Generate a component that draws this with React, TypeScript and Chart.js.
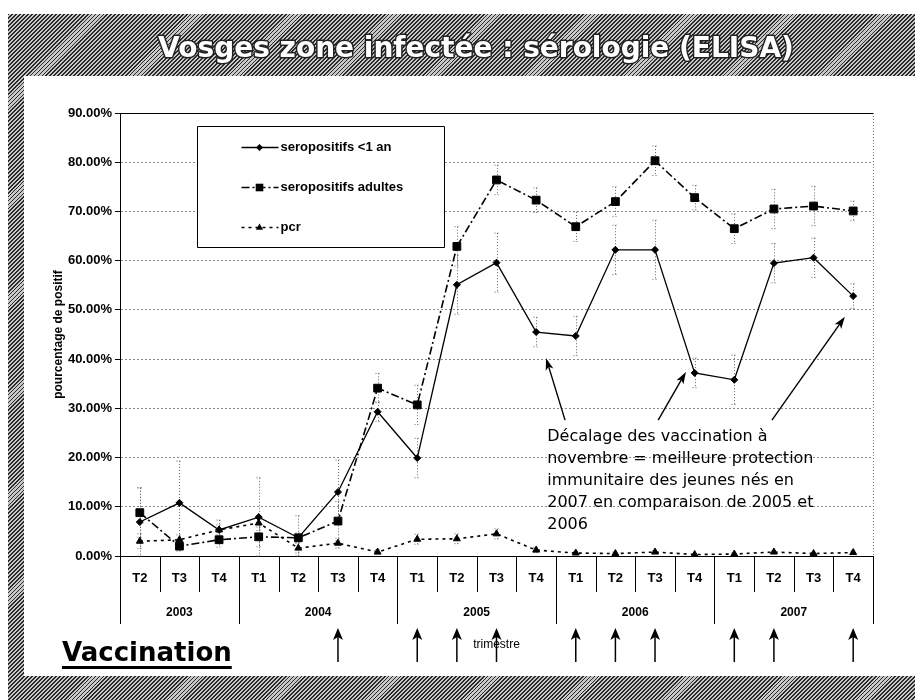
import React, { useEffect, useRef } from 'react';
import { Chart, registerables } from 'chart.js';

Chart.register(...registerables);

// ---------- data ----------
const quarters = ['T2', 'T3', 'T4', 'T1', 'T2', 'T3', 'T4', 'T1', 'T2', 'T3', 'T4', 'T1', 'T2', 'T3', 'T4', 'T1', 'T2', 'T3', 'T4'];
const years = ['2003', '2004', '2005', '2006', '2007'];
const quartersPerYear = [3, 4, 4, 4, 4];

const seroJeunes = [6.9, 10.8, 5.3, 7.9, 3.7, 13.0, 29.3, 19.9, 55.1, 59.6, 45.5, 44.7, 62.2, 62.2, 37.2, 35.8, 59.5, 60.6, 52.8];
const seroJeunesErr = [7, 8.5, 2, 8, 4.5, 6.5, 2, 4, 6, 6, 3, 4, 5, 6, 3, 5, 4, 4, 2.5];
const seroAdultes = [8.8, 2.0, 3.3, 3.9, 3.7, 7.1, 34.1, 30.7, 62.9, 76.4, 72.3, 66.9, 72.0, 80.3, 72.8, 66.5, 70.5, 71.1, 70.1];
const seroAdultesErr = [5, 1, 1.5, 2, 1, 4, 3, 4, 4, 3, 2.5, 3, 3, 3, 2.5, 3, 4, 4, 2];
const pcr = [3.0, 3.3, 5.3, 6.7, 1.6, 2.6, 0.8, 3.4, 3.5, 4.5, 1.2, 0.6, 0.5, 0.8, 0.3, 0.4, 0.8, 0.5, 0.7];
const pcrErr = [1.5, 1, 1, 1.5, 1, 1, 0.5, 1, 1, 1, 0.5, 0.3, 0.3, 0.3, 0.2, 0.2, 0.3, 0.2, 0.3];

const yMax = 90;
const yStep = 10;

const vaccinationQuarters = [5, 7, 8, 9, 11, 12, 13, 15, 16, 18];

const titleText = 'Vosges zone infectée : sérologie (ELISA)';
const yTitle = 'pourcentage de positif';
const xTitle = 'trimestre';
const vaccinationText = 'Vaccination';
const noteLines = [
  'Décalage des vaccination à',
  'novembre = meilleure protection',
  'immunitaire des jeunes nés en',
  '2007 en comparaison de 2005 et',
  '2006',
];
// annotation anchor & arrows in data coordinates (category index, %)
const noteAnchor = { index: 10.28, value: 24.2 };
const noteArrows = [
  { from: [10.73, 27.6], to: [10.25, 40.2] },
  { from: [13.08, 27.6], to: [13.78, 37.4] },
  { from: [15.95, 27.6], to: [17.79, 48.6] },
];

const AXIS_FONT = "'Liberation Sans', Arial, sans-serif";
const HAND_FONT = "'DejaVu Sans', sans-serif";

function drawArrow(ctx: CanvasRenderingContext2D, x1: number, y1: number, x2: number, y2: number, headLen: number, headW: number) {
  const ang = Math.atan2(y2 - y1, x2 - x1);
  const c = Math.cos(ang), s = Math.sin(ang);
  ctx.beginPath();
  ctx.moveTo(x1, y1);
  ctx.lineTo(x2 - c * headLen * 0.7, y2 - s * headLen * 0.7);
  ctx.stroke();
  ctx.beginPath();
  ctx.moveTo(x2, y2);
  ctx.lineTo(x2 - headLen * c + headW * s, y2 - headLen * s - headW * c);
  ctx.lineTo(x2 - headLen * 0.75 * c, y2 - headLen * 0.75 * s);
  ctx.lineTo(x2 - headLen * c - headW * s, y2 - headLen * s + headW * c);
  ctx.closePath();
  ctx.fill();
}

function drawMarker(ctx: CanvasRenderingContext2D, style: string, x: number, y: number) {
  ctx.beginPath();
  if (style === 'rectRot') {
    const r = 3.5;
    ctx.moveTo(x, y - r); ctx.lineTo(x + r, y); ctx.lineTo(x, y + r); ctx.lineTo(x - r, y);
  } else if (style === 'rect') {
    const h = 3.8;
    ctx.rect(x - h, y - h, 2 * h, 2 * h);
  } else {
    const r = 4;
    ctx.moveTo(x, y - r); ctx.lineTo(x + r * 0.9, y + r * 0.55); ctx.lineTo(x - r * 0.9, y + r * 0.55);
  }
  ctx.closePath();
  ctx.fill();
}

const decorPlugin = {
  id: 'decor',
  beforeDatasetsDraw(chart: any) {
    const { ctx, chartArea: a, scales } = chart;
    const x = scales.x, y = scales.y;
    ctx.save();
    // right border (dotted)
    ctx.strokeStyle = '#777';
    ctx.lineWidth = 1;
    ctx.setLineDash([1, 2]);
    ctx.beginPath();
    ctx.moveTo(Math.round(a.right) + 0.5, a.top);
    ctx.lineTo(Math.round(a.right) + 0.5, a.bottom);
    ctx.stroke();
    // error bars
    ctx.strokeStyle = '#666';
    ctx.setLineDash([1, 2]);
    chart.data.datasets.forEach((ds: any) => {
      const errs: number[] = ds.errors;
      if (!errs) return;
      ds.data.forEach((v: number, i: number) => {
        const px = Math.round(x.getPixelForValue(i)) + 0.5;
        const t = y.getPixelForValue(Math.min(yMax, v + errs[i]));
        const b = y.getPixelForValue(Math.max(0, v - errs[i]));
        ctx.beginPath();
        ctx.moveTo(px, t); ctx.lineTo(px, b);
        ctx.moveTo(px - 3, t); ctx.lineTo(px + 3, t);
        ctx.moveTo(px - 3, b); ctx.lineTo(px + 3, b);
        ctx.stroke();
      });
    });
    ctx.restore();
  },
  afterDraw(chart: any) {
    const { ctx, chartArea: a, scales } = chart;
    const x = scales.x, y = scales.y;
    ctx.save();
    ctx.setLineDash([]);

    // ----- title -----
    ctx.font = `bold 28px ${HAND_FONT}`;
    ctx.textAlign = 'center';
    ctx.textBaseline = 'alphabetic';
    ctx.lineJoin = 'round';
    ctx.lineWidth = 3;
    ctx.strokeStyle = '#222';
    ctx.strokeText(titleText, 476, 57);
    ctx.fillStyle = '#fff';
    ctx.fillText(titleText, 476, 57);

    // ----- category separators -----
    ctx.strokeStyle = '#000';
    ctx.lineWidth = 1;
    ctx.beginPath();
    for (let i = 0; i <= quarters.length; i++) {
      const px = Math.round(x.getPixelForValue(i - 0.5)) + 0.5;
      ctx.moveTo(px, a.bottom);
      ctx.lineTo(px, a.bottom + 36);
    }
    ctx.stroke();

    // ----- years -----
    ctx.fillStyle = '#000';
    ctx.font = `bold 12px ${AXIS_FONT}`;
    ctx.textAlign = 'center';
    ctx.textBaseline = 'middle';
    let start = 0;
    ctx.beginPath();
    years.forEach((yr, k) => {
      const n = quartersPerYear[k];
      const l = x.getPixelForValue(start - 0.5);
      const r = x.getPixelForValue(start + n - 0.5);
      const pl = Math.round(l) + 0.5, pr = Math.round(r) + 0.5;
      ctx.moveTo(pl, a.bottom); ctx.lineTo(pl, a.bottom + 68);
      ctx.moveTo(pr, a.bottom); ctx.lineTo(pr, a.bottom + 68);
      ctx.fillText(yr, (l + r) / 2, a.bottom + 57);
      start += n;
    });
    ctx.stroke();

    // ----- x axis title -----
    ctx.font = `12px ${AXIS_FONT}`;
    ctx.fillText(xTitle, (a.left + a.right) / 2, 645);

    // ----- vaccination arrows -----
    ctx.lineWidth = 1.5;
    vaccinationQuarters.forEach((q) => {
      const px = x.getPixelForValue(q);
      drawArrow(ctx, px, 662, px, 628, 12, 5);
    });

    // ----- Vaccination label -----
    ctx.font = `bold 26px ${HAND_FONT}`;
    ctx.textAlign = 'left';
    ctx.textBaseline = 'alphabetic';
    ctx.fillText(vaccinationText, 62, 661);
    const vw = ctx.measureText(vaccinationText).width;
    ctx.fillRect(62, 666, vw, 3);

    // ----- legend -----
    const bx = Math.round(a.left + 77) + 0.5, by = Math.round(a.top + 13) + 0.5;
    const bw = 247, bh = 121;
    ctx.fillStyle = '#fff';
    ctx.fillRect(bx, by, bw, bh);
    ctx.strokeStyle = '#000';
    ctx.lineWidth = 1;
    ctx.strokeRect(bx, by, bw, bh);
    chart.data.datasets.forEach((ds: any, i: number) => {
      const ly = by + 21 + i * 40;
      ctx.save();
      ctx.strokeStyle = '#000';
      ctx.lineWidth = ds.borderWidth;
      ctx.setLineDash(ds.borderDash || []);
      ctx.beginPath();
      ctx.moveTo(bx + 44, ly);
      ctx.lineTo(bx + 81, ly);
      ctx.stroke();
      ctx.restore();
      ctx.fillStyle = '#000';
      drawMarker(ctx, ds.pointStyle, bx + 62, ly);
      ctx.font = `bold 13px ${AXIS_FONT}`;
      ctx.textAlign = 'left';
      ctx.textBaseline = 'middle';
      ctx.fillText(ds.label, bx + 83, ly);
    });

    // ----- annotation -----
    const nx = x.getPixelForValue(noteAnchor.index);
    const ny = y.getPixelForValue(noteAnchor.value);
    ctx.fillStyle = '#000';
    ctx.font = `16px ${HAND_FONT}`;
    ctx.textAlign = 'left';
    ctx.textBaseline = 'middle';
    noteLines.forEach((t, i) => ctx.fillText(t, nx, ny + i * 22));
    ctx.strokeStyle = '#000';
    ctx.lineWidth = 1.4;
    noteArrows.forEach((ar) => {
      drawArrow(
        ctx,
        x.getPixelForValue(ar.from[0]), y.getPixelForValue(ar.from[1]),
        x.getPixelForValue(ar.to[0]), y.getPixelForValue(ar.to[1]),
        12, 4
      );
    });
    ctx.restore();
  },
};

export default function App() {
  const ref = useRef<HTMLCanvasElement>(null);

  useEffect(() => {
    if (!ref.current) return;
    const isEdge = (c: any) => c.tick && (c.tick.value === 0 || c.tick.value === yMax);
    const chart = new Chart(ref.current, {
      type: 'line',
      data: {
        labels: quarters,
        datasets: [
          {
            label: 'seropositifs <1 an',
            data: seroJeunes,
            errors: seroJeunesErr,
            borderColor: '#000',
            backgroundColor: '#000',
            borderWidth: 1.3,
            pointStyle: 'rectRot',
            pointRadius: 3.5,
            pointBorderWidth: 1,
            pointBorderColor: '#000',
            pointBackgroundColor: '#000',
            fill: false,
          } as any,
          {
            label: 'seropositifs adultes',
            data: seroAdultes,
            errors: seroAdultesErr,
            borderColor: '#000',
            backgroundColor: '#000',
            borderWidth: 1.6,
            borderDash: [8, 3, 2, 3],
            pointStyle: 'rect',
            pointRadius: 5.5,
            pointBorderWidth: 1,
            pointBorderColor: '#000',
            pointBackgroundColor: '#000',
            fill: false,
          } as any,
          {
            label: 'pcr',
            data: pcr,
            errors: pcrErr,
            borderColor: '#000',
            backgroundColor: '#000',
            borderWidth: 1.6,
            borderDash: [3, 4],
            pointStyle: 'triangle',
            pointRadius: 4,
            pointBorderWidth: 1,
            pointBorderColor: '#000',
            pointBackgroundColor: '#000',
            fill: false,
          } as any,
        ],
      },
      options: {
        animation: false,
        responsive: false,
        devicePixelRatio: 1,
        layout: { padding: { left: 47, top: 113, right: 42, bottom: 64 } },
        elements: { line: { tension: 0 } },
        plugins: {
          legend: { display: false },
          title: { display: false },
          tooltip: { enabled: false },
        },
        scales: {
          x: {
            type: 'category',
            offset: true,
            grid: { display: false, drawTicks: false },
            border: { display: true, color: '#000', width: 1 },
            ticks: {
              color: '#000',
              font: { family: AXIS_FONT, size: 13, weight: 'bold' },
              padding: 15,
              maxRotation: 0,
              autoSkip: false,
            },
            afterFit: (s: any) => { s.height = 80; },
          },
          y: {
            min: 0,
            max: yMax,
            ticks: {
              stepSize: yStep,
              color: '#000',
              font: { family: AXIS_FONT, size: 13, weight: 'bold' },
              padding: 3,
              callback: (v: any) => Number(v).toFixed(2) + '%',
            },
            grid: {
              color: (c: any) => (isEdge(c) ? '#000' : '#8a8a8a'),
              lineWidth: 1,
              tickColor: '#000',
              tickLength: 5,
              tickBorderDash: [],
            },
            border: {
              display: true,
              color: '#000',
              width: 1,
              dash: (c: any) => (isEdge(c) ? [] : [2, 2]),
            },
            title: {
              display: true,
              text: yTitle,
              color: '#000',
              font: { family: AXIS_FONT, size: 12, weight: 'bold' },
            },
            afterFit: (s: any) => { s.width = 73; },
          },
        },
      } as any,
      plugins: [decorPlugin],
    });
    return () => chart.destroy();
  }, []);

  const hatch = 'repeating-linear-gradient(135deg, #2a2a2a 0px, #2a2a2a 1.3px, #c8c8c8 1.3px, #c8c8c8 2.8px)';

  return (
    <div style={{ position: 'fixed', left: 0, top: 0, width: 915, height: 700, background: '#fff', overflow: 'hidden' }}>
      <div style={{ position: 'absolute', left: 8, top: 14, width: 907, height: 62, background: hatch }} />
      <div style={{ position: 'absolute', left: 8, top: 14, width: 16, height: 686, background: hatch }} />
      <div style={{ position: 'absolute', left: 8, top: 676, width: 907, height: 24, background: hatch }} />
      <canvas ref={ref} width={915} height={700} style={{ position: 'absolute', left: 0, top: 0, width: 915, height: 700 }} />
    </div>
  );
}
